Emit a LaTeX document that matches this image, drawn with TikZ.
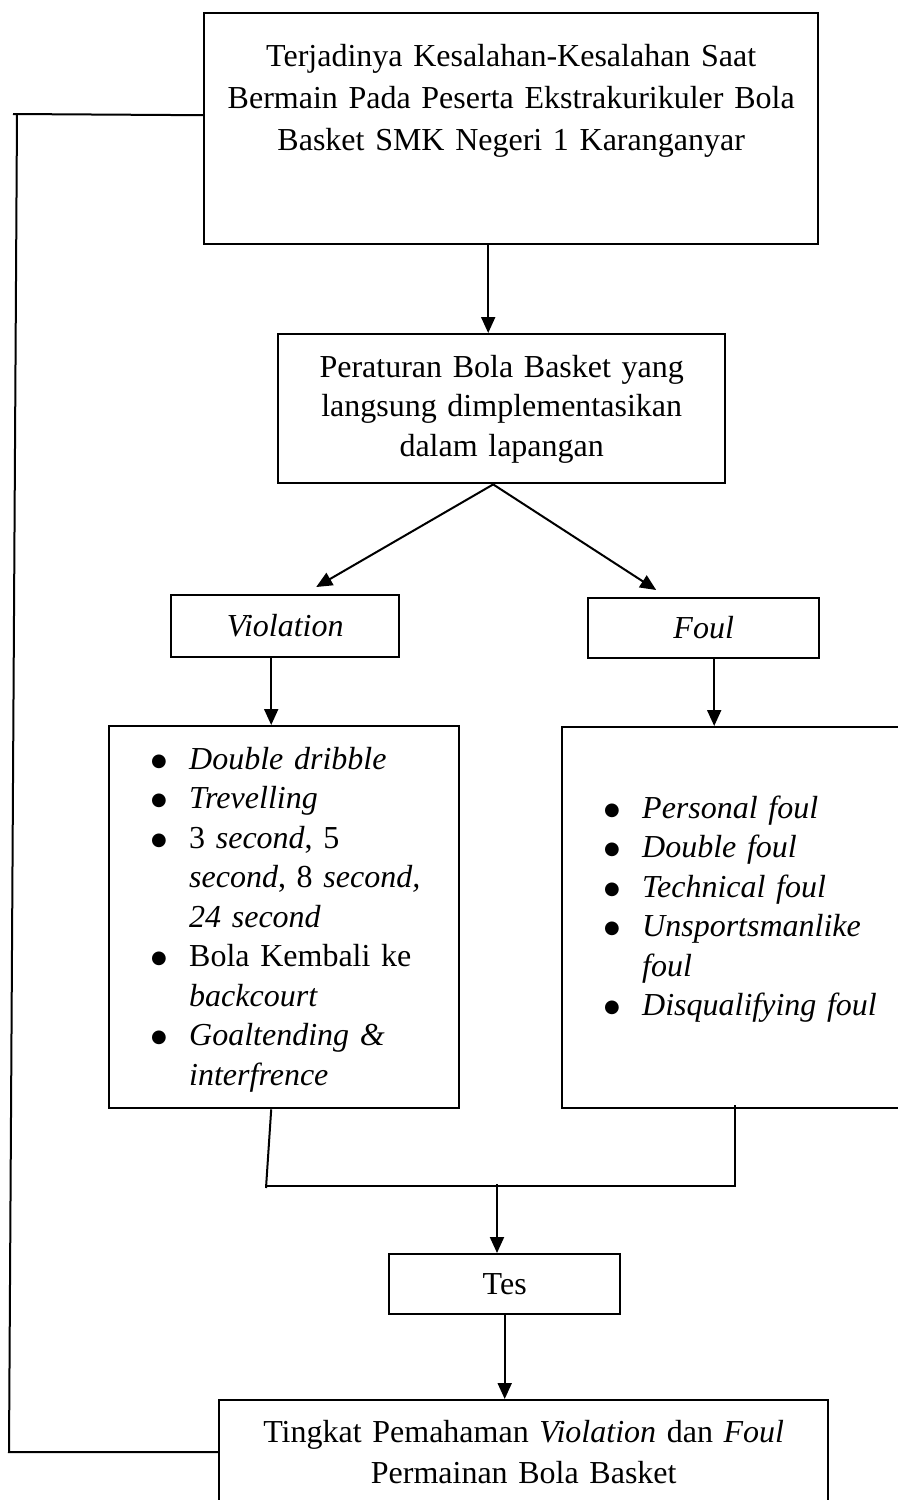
\documentclass[tikz,border=0pt]{standalone}
\usepackage{fontspec}
\setmainfont{Liberation Serif}
\newfontfamily\dotfont{DejaVu Sans}
\usetikzlibrary{arrows.meta,calc}

\newcommand{\blt}{\hspace*{21pt}\makebox[19pt][l]{\raisebox{1.5pt}{\dotfont\fontsize{9pt}{9pt}\selectfont ●}}}
\newcommand{\ind}{\hspace*{40pt}}

\begin{document}
\begin{tikzpicture}[x=0.5pt, y=-0.5pt, font=\fontsize{16pt}{19.75pt}\selectfont,
  box/.style={draw, line width=1.2pt, inner sep=0pt, anchor=north west, align=center},
  arr/.style={-{Triangle[length=8pt,width=7pt]}, line width=1pt},
  link/.style={line width=1pt}]
\useasboundingbox (0,0) rectangle (898,1500);
\clip (0,0) rectangle (898,1500);
\node[box, text width=307pt, text height=26.5pt, text depth=89pt, font=\fontsize{16pt}{21pt}\selectfont] (cause) at (203,12)
  {Terjadinya Kesalahan-Kesalahan Saat\\Bermain Pada Peserta Ekstrakurikuler Bola\\Basket SMK Negeri 1 Karanganyar};
\node[box, text width=223.5pt, text height=21.5pt, text depth=53pt] (rules) at (277,333)
  {Peraturan Bola Basket yang\\langsung dimplementasikan\\dalam lapangan};
\node[box, text width=114pt, text height=20.5pt, text depth=10.5pt] (viol) at (170,594) {\textit{Violation}};
\node[box, text width=115.5pt, text height=20pt, text depth=10pt] (foul) at (587,597) {\textit{Foul}};
\node[box, align=left, text width=175pt, text height=21.5pt, text depth=169.5pt] (vlist) at (108,725)
  {\blt\textit{Double dribble}\\
   \blt\textit{Trevelling}\\
   \blt 3 \textit{second}, 5\\
   \ind\textit{second}, 8 \textit{second,}\\
   \ind\textit{24 second}\\
   \blt Bola Kembali ke\\
   \ind\textit{backcourt}\\
   \blt\textit{Goaltending \&}\\
   \ind\textit{interfrence}};
\node[box, align=left, text width=173pt, text height=45.5pt, text depth=145pt] (flist) at (561,726)
  {\blt\textit{Personal foul}\\
   \blt\textit{Double foul}\\
   \blt\textit{Technical foul}\\
   \blt\textit{Unsportsmanlike}\\
   \ind\textit{foul}\\
   \blt\textit{Disqualifying foul}};
\node[box, text width=115.5pt, text height=20pt, text depth=10pt] (tes) at (388,1253) {Tes};
\node[box, text width=304.5pt, text height=21pt, text depth=40pt, font=\fontsize{16pt}{20.5pt}\selectfont] (result) at (218,1399)
  {Tingkat Pemahaman \textit{Violation} dan \textit{Foul}\\Permainan Bola Basket};
% arrows down the chart
\draw[arr] ([xshift=-11.5pt]cause.south) -- ([xshift=-11.5pt]cause.south |- rules.north);
\draw[arr] ([xshift=-4.25pt]rules.south) -- ([xshift=15.5pt,yshift=3.5pt]viol.north);
\draw[arr] ([xshift=-4.25pt]rules.south) -- ([xshift=-23.75pt,yshift=3.5pt]foul.north);
\draw[arr] ([xshift=-7pt]viol.south) -- ([xshift=-7pt]viol.south |- vlist.north);
\draw[arr] ([xshift=5.25pt]foul.south) -- ([xshift=5.25pt]foul.south |- flist.north);
% both lists join into the test
\coordinate (merge) at (497,1184);
\draw[link] ([xshift=-6.5pt]vlist.south) -- (266,1188);
\draw[link] (267,1186) -| ([yshift=2pt]flist.south);
\draw[arr] (merge) -- (merge |- tes.north);
\draw[arr] (tes.south) -- (tes.south |- result.north);
% feedback line on the left
\draw[link] ([yshift=6.75pt]cause.west) -- (13,114);
\draw[link] (17,114) -- (9,1452) -- ([yshift=-26.5pt]result.north west);
\end{tikzpicture}
\end{document}
